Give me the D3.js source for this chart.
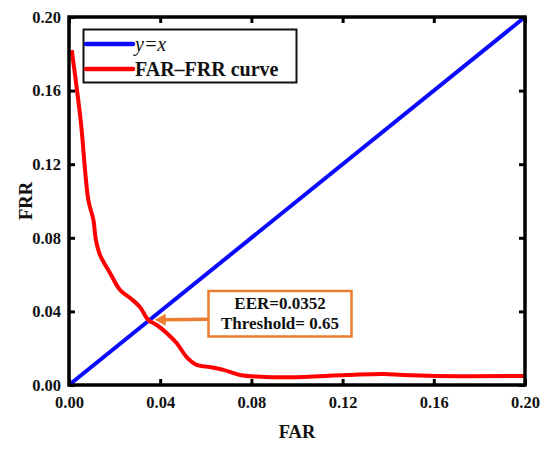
<!DOCTYPE html>
<html>
<head>
<meta charset="utf-8">
<script src="https://cdn.jsdelivr.net/npm/d3@7"></script>
<style>
  html, body { margin: 0; padding: 0; background: #fff; }
  svg { display: block; }
  text { font-family: "Liberation Serif", "Times New Roman", serif; font-weight: bold; fill: #111; }
</style>
</head>
<body>
<script>
// ---- data ----
const farValues = [0.0012, 0.0051, 0.0085, 0.0107, 0.0118, 0.0136, 0.018, 0.0224, 0.0268, 0.0311, 0.0348, 0.0385, 0.0428, 0.0472, 0.0516, 0.056, 0.0604, 0.0677, 0.075, 0.0838, 0.097, 0.1218, 0.138, 0.1466, 0.161, 0.2];
const frrValues = [0.182, 0.144, 0.1005, 0.0897, 0.0788, 0.0707, 0.0609, 0.0516, 0.0473, 0.0424, 0.0353, 0.0326, 0.0283, 0.0228, 0.0152, 0.0109, 0.0100, 0.0082, 0.0054, 0.0045, 0.0042, 0.0054, 0.006, 0.0054, 0.0049, 0.0049];
const identityX = [0, 0.2];
const tickValues = [0, 0.04, 0.08, 0.12, 0.16, 0.2];
const seriesNames = ["y=x", "FAR\u2013FRR curve"];
const eerValue = 0.0352;
const eerLabels = ["EER=0.0352", "Threshold= 0.65"];

const FONT = "'Liberation Serif', 'Times New Roman', serif";
const W = 550, H = 450;
const margin = { left: 69, right: 25, top: 17, bottom: 65 };
const svg = d3.select("body").append("svg").attr("width", W).attr("height", H)
  .attr("font-family", FONT);

const x = d3.scaleLinear().domain([0, 0.2]).range([margin.left, W - margin.right]);
const y = d3.scaleLinear().domain([0, 0.2]).range([H - margin.bottom, margin.top]);

const fmt = d3.format(".2f");
const blue = "#0a0aff", red = "#ff0000", orange = "#ed7d31";

// lines
svg.append("path")
  .datum(identityX)
  .attr("d", d3.line().x(d => x(d)).y(d => y(d)))
  .attr("stroke", blue).attr("stroke-width", 4).attr("fill", "none");

const curve = farValues.map((f, i) => [f, frrValues[i]]);
svg.append("path")
  .datum(curve)
  .attr("d", d3.line().x(d => x(d[0])).y(d => y(d[1])).curve(d3.curveCatmullRom.alpha(0.5)))
  .attr("stroke", red).attr("stroke-width", 4).attr("fill", "none")
  .attr("stroke-linejoin", "round");

// axes (inner ticks on all sides)
const tickLen = 6;
const axB = svg.append("g").attr("transform", `translate(0,${y(0)})`)
  .call(d3.axisBottom(x).tickValues(tickValues).tickSize(-tickLen).tickPadding(11).tickFormat(fmt));
const axL = svg.append("g").attr("transform", `translate(${x(0)},0)`)
  .call(d3.axisLeft(y).tickValues(tickValues).tickSize(-tickLen).tickPadding(8).tickFormat(fmt));
const axT = svg.append("g").attr("transform", `translate(0,${y(0.2)})`)
  .call(d3.axisTop(x).tickValues(tickValues).tickSize(-tickLen).tickFormat(""));
const axR = svg.append("g").attr("transform", `translate(${x(0.2)},0)`)
  .call(d3.axisRight(y).tickValues(tickValues).tickSize(-tickLen).tickFormat(""));

[axB, axL, axT, axR].forEach(g => {
  g.attr("font-family", FONT).attr("font-size", 16.5);
  g.select(".domain").remove();
  g.selectAll(".tick line").attr("stroke", "#000").attr("stroke-width", 3);
  g.selectAll(".tick text").style("font-family", FONT)
    .style("font-weight", "bold").style("font-size", "16.5px").attr("fill", "#111");
});

// frame
svg.append("rect")
  .attr("x", x(0)).attr("y", y(0.2))
  .attr("width", x(0.2) - x(0)).attr("height", y(0) - y(0.2))
  .attr("fill", "none").attr("stroke", "#000").attr("stroke-width", 3.5);

// axis titles
svg.append("text").attr("x", (x(0) + x(0.2)) / 2).attr("y", 438)
  .attr("text-anchor", "middle").style("font-size", "18.5px").text("FAR");
svg.append("text")
  .attr("transform", `translate(32,${(y(0) + y(0.2)) / 2}) rotate(-90)`)
  .attr("text-anchor", "middle").style("font-size", "18.5px").text("FRR");

// legend
const leg = svg.append("g");
leg.append("rect").attr("x", 83.5).attr("y", 29.5).attr("width", 213).attr("height", 53)
  .attr("fill", "#fff").attr("stroke", "#111").attr("stroke-width", 2);
const legColors = [blue, red];
seriesNames.forEach((n, i) => {
  const ly = 44 + i * 25;
  leg.append("line").attr("x1", 86).attr("x2", 133).attr("y1", ly).attr("y2", ly)
    .attr("stroke", legColors[i]).attr("stroke-width", 4.5).attr("stroke-linecap", "round");
  const t = leg.append("text").attr("x", 135).attr("y", ly + 7).style("font-size", "20px");
  if (i === 0) {
    t.style("font-style", "italic").style("font-weight", "normal").text(n);
  } else {
    t.text(n);
  }
});

// EER annotation
const ann = svg.append("g");
const boxX = 208.5, boxY = 291, boxW = 143, boxH = 45.5;
ann.append("rect").attr("x", boxX).attr("y", boxY).attr("width", boxW).attr("height", boxH)
  .attr("fill", "#fff").attr("stroke", orange).attr("stroke-width", 2.5);
eerLabels.forEach((l, i) => {
  ann.append("text").attr("x", boxX + boxW / 2).attr("y", 309 + i * 20)
    .attr("text-anchor", "middle").style("font-size", "17px").text(l);
});
const tipX = x(eerValue) + 5.5, tipY = y(eerValue) - 0.5;
ann.append("line").attr("x1", boxX).attr("y1", tipY - 0.5).attr("x2", tipX + 8).attr("y2", tipY)
  .attr("stroke", orange).attr("stroke-width", 3.5);
ann.append("path")
  .attr("d", `M${tipX},${tipY} L${tipX + 11},${tipY - 6} L${tipX + 11},${tipY + 6} Z`)
  .attr("fill", orange);
</script>
</body>
</html>
